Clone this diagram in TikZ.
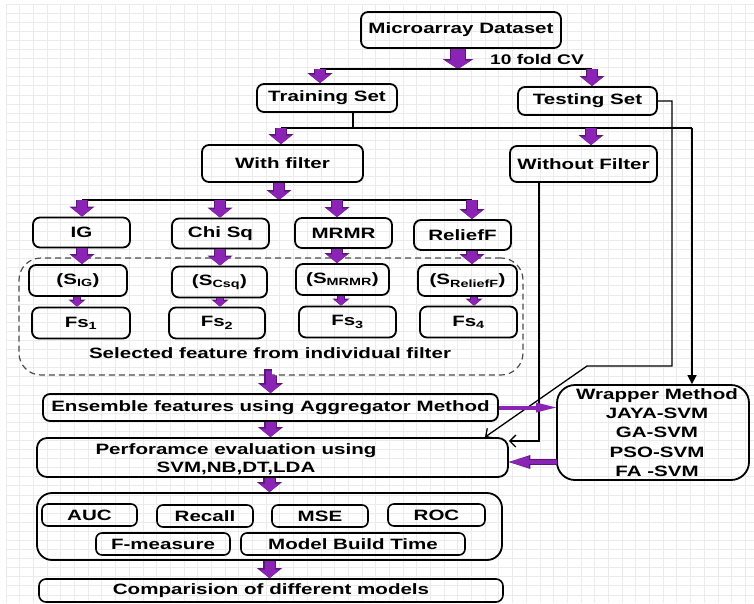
\documentclass[tikz,border=0pt]{standalone}
\usepackage{fontspec}
\setmainfont{Liberation Sans}[FakeStretch=1.37]
\usetikzlibrary{arrows.meta,calc}
\definecolor{purp}{RGB}{139,35,180}
\definecolor{purpD}{RGB}{92,22,122}
\definecolor{gridc}{RGB}{235,235,235}
\begin{document}
\begin{tikzpicture}[x=1pt,y=-1pt,
  gridl/.style={draw=gridc,line width=0.7pt},
  box/.style={draw=black,line width=1.8pt,rounded corners=7pt,inner sep=0pt,
    font=\fontsize{15}{18}\selectfont\bfseries,text=black},
  fbox/.style={box,minimum width=97pt,minimum height=30pt},
  mbox/.style={box,line width=1.6pt,rounded corners=6pt,minimum height=22pt},
  dashbox/.style={draw=black!70,line width=1.2pt,dash pattern=on 6pt off 4pt,rounded corners=22pt},
  lbl/.style={inner sep=0pt,font=\fontsize{15}{18}\selectfont\bfseries,text=black},
  conn/.style={draw=black,line width=1.5pt},
  openarr/.style={conn,line width=1.3pt,-{Straight Barb[length=6pt,width=12pt]}},
  blk/.style={preaction={draw=purpD,line width=12.4pt,-{Triangle[length=10pt,width=25pt,line width=0pt]}},
    draw=purp,line width=10pt,-{Triangle[length=8.5pt,width=20pt,line width=0pt]}},
  blkbig/.style={preaction={draw=purpD,line width=16.4pt,-{Triangle[length=10pt,width=31pt,line width=0pt]}},
    draw=purp,line width=14pt,-{Triangle[length=8.5pt,width=26pt,line width=0pt]}},
  blksm/.style={preaction={draw=purpD,line width=8.2pt,-{Triangle[length=7pt,width=17pt,line width=0pt]}},
    draw=purp,line width=6pt,-{Triangle[length=5.5pt,width=13pt,line width=0pt]}},
  blkthin/.style={draw=purp,line width=4pt,-{Triangle[length=20pt,width=10pt,line width=0pt]}},
  blkmid/.style={preaction={draw=purpD,line width=6.4pt,-{Triangle[length=21.5pt,width=14pt,line width=0pt]}},
    draw=purp,line width=4.6pt,-{Triangle[length=20pt,width=11.5pt,line width=0pt]}}
]
\useasboundingbox (0,0) rectangle (754,603);
\fill[white] (0,0) rectangle (754,603);
\foreach \i in {0,...,54} {\draw[gridl] ({6+13.69*\i},4) -- ({6+13.69*\i},603);}
\foreach \j in {0,...,65} {\draw[gridl] (6,{4+9.09*\j}) -- (754,{4+9.09*\j});}

% nodes
\node[box,minimum width=200pt,minimum height=36pt] (micro) at (461,30) {Microarray Dataset};
\node[lbl,font=\fontsize{14}{17}\selectfont\bfseries] (cv) at (537,59) {10 fold CV};
\node[box,minimum width=140pt,minimum height=28pt] (train) at (327,98) {Training Set};
\node[box,minimum width=139pt,minimum height=28pt] (test) at (587.5,101) {Testing Set};
\node[box,minimum width=161pt,minimum height=37pt] (withf) at (282.5,163.5) {With filter};
\node[box,minimum width=147pt,minimum height=36pt] (wof) at (583.5,164) {Without Filter};

\node[fbox] (ig) at (81.5,232.5) {IG};
\node[fbox] (chi) at (220.5,233.5) {Chi Sq};
\node[fbox] (mrmr) at (343.5,233) {MRMR};
\node[fbox] (rel) at (462.5,235) {ReliefF};

\node[dashbox,minimum width=504pt,minimum height=117pt] (grp) at (271,316.5) {};
\node[fbox,minimum height=31pt,minimum width=98pt] (sig) at (78,280.5) {(S\textsubscript{IG})};
\node[fbox,minimum height=31pt,minimum width=95pt] (scsq) at (219.5,282) {(S\textsubscript{Csq})};
\node[fbox,minimum height=31pt,minimum width=93pt] (smrmr) at (342.5,279.5) {(S\textsubscript{MRMR})};
\node[fbox,minimum height=31pt,minimum width=99pt] (srel) at (467.5,280.5) {(S\textsubscript{ReliefF})};

\node[fbox,minimum height=31pt,minimum width=98pt] (fs1) at (81,323) {Fs\textsubscript{1}};
\node[fbox,minimum height=31pt,minimum width=96pt] (fs2) at (217,323) {Fs\textsubscript{2}};
\node[fbox,minimum height=31pt,minimum width=97pt] (fs3) at (347.5,322) {Fs\textsubscript{3}};
\node[fbox,minimum height=31pt,minimum width=97pt] (fs4) at (468.5,322) {Fs\textsubscript{4}};
\node[lbl] (seltxt) at (270,353) {Selected feature from individual filter};

\node[box,minimum width=455pt,minimum height=27pt] (ens) at (270.5,407.5) {Ensemble features using Aggregator Method};
\node[box,minimum width=471pt,minimum height=39pt,rounded corners=10pt] (perf) at (272.5,457.5) {};
\node[lbl,align=center,font=\fontsize{15}{18}\selectfont\bfseries] (perftxt) at (236,459) {Perforamce evaluation using\\SVM,NB,DT,LDA};
\node[box,minimum width=192pt,minimum height=95pt,rounded corners=18pt,align=center,
  font=\fontsize{15}{19.3}\selectfont\bfseries] (wrap) at (653,432.5)
  {\hspace*{8pt}Wrapper Method\\\hspace*{8pt}JAYA-SVM\\\hspace*{8pt}GA-SVM\\\hspace*{8pt}PSO-SVM\\\hspace*{8pt}FA -SVM};

\node[box,minimum width=465pt,minimum height=67pt,rounded corners=15pt] (met) at (269.5,526.5) {};
\node[mbox,minimum width=95pt] (auc) at (89.5,515) {AUC};
\node[mbox,minimum width=96pt] (rec) at (205,516) {Recall};
\node[mbox,minimum width=96pt] (mse) at (320,516) {MSE};
\node[mbox,minimum width=97pt] (roc) at (436.5,515) {ROC};
\node[mbox,minimum width=134pt] (fm) at (163,544) {F-measure};
\node[mbox,minimum width=224pt] (mbt) at (353,544) {Model Build Time};
\node[box,minimum width=464pt,minimum height=23pt,line width=1.6pt] (comp) at (271,590.5) {Comparision of different models};

% junction coordinates
\coordinate (s1) at (458,69);
\coordinate (s1l) at (320,69);
\coordinate (s1r) at (592,69);
\coordinate (s2) at (353,128);
\coordinate (s2l) at (281,128);
\coordinate (s2m) at (591,128);
\coordinate (s2r) at (692,128);
\coordinate (s3) at (279,200);
\coordinate (c1) at (82,200);
\coordinate (c2) at (220,200);
\coordinate (c3) at (337,200);
\coordinate (c4) at (472,200);
\coordinate (k1) at (77,300);
\coordinate (k2) at (220,300);
\coordinate (k3) at (341,300);
\coordinate (k4) at (474,300);
\coordinate (t1) at (672,366);
\coordinate (t2) at (587,366);
\coordinate (pin) at (485,438);
\coordinate (w1) at (539,441);
\coordinate (wp) at (557,462);

% connectors
\draw[blkbig] (micro.south -| s1) -- (s1);
\draw[conn] (s1l) -- (s1r);
\draw[blk] (s1l) -- (s1l |- train.north);
\draw[blk] (s1r) -- (s1r |- test.north);

\draw[conn] (train.south -| s2) -- (s2);
\draw[conn] (s2l) -- (s2r);
\draw[blk] (s2l) -- (s2l |- withf.north);
\draw[blk] (s2m) -- (s2m |- wof.north);
\draw[conn,-{Triangle[length=9pt,width=9pt]}] (s2r) -- (s2r |- wrap.north);

\draw[openarr] (test.east) -| (t1) -- (t2) -- (perf.north -| pin);
\draw[openarr] (wof.south -| w1) -- (w1) -- (perf.east |- w1);

\draw[blk] (withf.south -| s3) -- (s3);
\draw[conn] (c1) -- (c4);
\draw[blk] (c1) -- (c1 |- ig.north);
\draw[blk] (c2) -- (c2 |- chi.north);
\draw[blk] (c3) -- (c3 |- mrmr.north);
\draw[blk] (c4) -- (c4 |- rel.north);

\draw[blk] (ig.south -| c1) -- (sig.north -| c1);
\draw[blk] (chi.south -| c2) -- (scsq.north -| c2);
\draw[blk] (mrmr.south -| c3) -- (smrmr.north -| c3);
\draw[blk] (rel.south -| c4) -- (srel.north -| c4);

\draw[blksm] (sig.south -| k1) -- (fs1.north -| k1);
\draw[blksm] (scsq.south -| k2) -- (fs2.north -| k2);
\draw[blksm] (smrmr.south -| k3) -- (fs3.north -| k3);
\draw[blksm] (srel.south -| k4) -- (fs4.north -| k4);

\draw[blk] (grp.south) -- (ens.north |- grp.south) -- (ens.north);
\draw[blk] (ens.south) -- (ens.south |- perf.north);
\draw[blk] (met.north |- perf.south) -- (met.north);
\draw[blk] (met.south) -- (met.south |- comp.north);

\draw[blkthin] (ens.east) -- (ens.east -| wrap.west);
\draw[blkmid] (wp) -- (wp -| perf.east);
\end{tikzpicture}
\end{document}
